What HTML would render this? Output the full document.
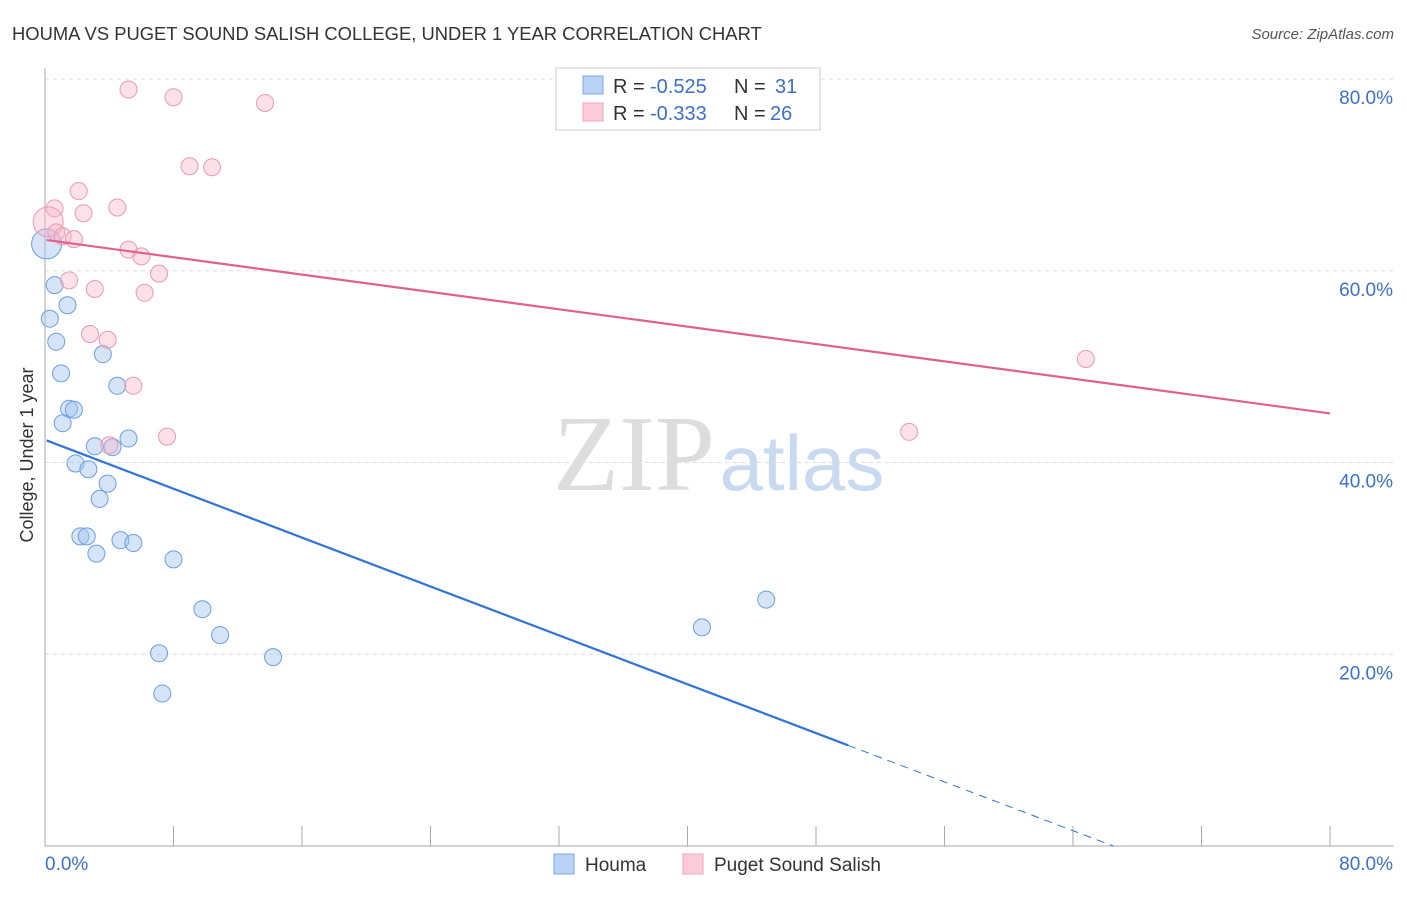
<!DOCTYPE html>
<html><head><meta charset="utf-8"><style>
body{margin:0;background:#fff;font-family:"Liberation Sans",sans-serif;}
</style></head><body>
<svg width="1406" height="892" xmlns="http://www.w3.org/2000/svg" style="font-family:'Liberation Sans',sans-serif">
<text x="12" y="40" font-size="18.4" fill="#333">HOUMA VS PUGET SOUND SALISH COLLEGE, UNDER 1 YEAR CORRELATION CHART</text>
<text x="1394" y="39" font-size="15" fill="#555" font-style="italic" text-anchor="end">Source: ZipAtlas.com</text>
<text x="33" y="455" font-size="18" fill="#333" transform="rotate(-90 33 455)" text-anchor="middle">College, Under 1 year</text>
<g>
<text x="634" y="490" font-size="108" fill="#ddd" font-family="Liberation Serif" text-anchor="middle">ZIP</text>
<text x="802" y="490" font-size="78" fill="#c9d9f0" text-anchor="middle">atlas</text>
</g>
<g id="grid"></g>
<g id="axes"></g>
<g id="marks"></g>
<g>
<rect x="556" y="68" width="264" height="62" fill="#fff" stroke="#ccc"/>
<rect x="583" y="76" width="20" height="18" fill="#b9d3f6" stroke="#7aa6e6"/>
<rect x="583" y="103" width="20" height="18" fill="#fbcbd9" stroke="#eba5bc"/>
<text x="613" y="93" font-size="20" fill="#333">R =</text>
<text x="650" y="93" font-size="20" fill="#3b6fd0">-0.525</text>
<text x="734" y="93" font-size="20" fill="#333">N =</text>
<text x="775" y="93" font-size="20" fill="#3b6fd0">31</text>
<text x="613" y="120" font-size="20" fill="#333">R =</text>
<text x="650" y="120" font-size="20" fill="#3b6fd0">-0.333</text>
<text x="734" y="120" font-size="20" fill="#333">N =</text>
<text x="770" y="120" font-size="20" fill="#3b6fd0">26</text>
</g>
<g>
<rect x="554" y="854" width="20" height="20" fill="#b9d3f6" stroke="#7aa6e6"/>
<text x="585" y="871" font-size="19" fill="#333">Houma</text>
<rect x="683" y="854" width="20" height="20" fill="#fbcbd9" stroke="#eba5bc"/>
<text x="714" y="871" font-size="19" fill="#333">Puget Sound Salish</text>
</g>
</svg>
<script>
const yTicks=[20,40,60,80];
const yTickLabels=["20.0%","40.0%","60.0%","80.0%"];
const xTickLabels=["0.0%","80.0%"];
const houmaX=[0.1,0.6,1.4,0.3,0.7,1.0,1.5,1.8,1.1,3.6,4.5,5.2,3.1,4.2,1.9,2.7,3.9,3.4,2.2,2.6,3.2,4.7,5.5,8.0,9.8,10.9,7.1,14.2,7.3,40.9,44.9];
const houmaY=[62.8,58.5,56.4,55.0,52.6,49.3,45.6,45.5,44.1,51.3,48.0,42.5,41.7,41.6,39.9,39.3,37.8,36.2,32.3,32.3,30.5,31.9,31.6,29.9,24.7,22.0,20.1,19.7,15.9,22.8,25.7];
const pugetX=[5.2,8.0,13.7,9.0,10.4,2.1,0.6,4.5,2.4,0.2,0.7,1.1,1.8,5.2,6.0,7.1,1.5,3.1,6.2,2.8,3.9,5.5,4.0,7.6,53.8,64.8];
const pugetY=[78.9,78.1,77.5,70.9,70.8,68.3,66.5,66.6,66.0,65.1,64.0,63.6,63.3,62.2,61.5,59.7,59.0,58.1,57.7,53.4,52.8,48.0,41.8,42.7,43.2,50.8];
const houmaTrend=[42.3,-0.636];
const pugetTrend=[63.2,-0.226];
const NS="http://www.w3.org/2000/svg";
const X0=45,X1=1330,Y0=846,Y80=79;
const sx=v=>X0+(X1-X0)*v/80;
const sy=v=>Y0-(Y0-Y80)*v/80;
function mk(tag,attrs,parent){const e=document.createElementNS(NS,tag);for(const k in attrs)e.setAttribute(k,attrs[k]);document.getElementById(parent).appendChild(e);return e;}
yTicks.forEach((t,i)=>{
 const l=mk('line',{x1:X0,x2:1394,y1:sy(t),y2:sy(t),stroke:'#ddd','stroke-dasharray':'4,4'},'grid');
 
 
 const tx=mk('text',{x:1393,y:sy(t)+25,'font-size':19,fill:'#3b6fd0','text-anchor':'end'},'grid');
 tx.textContent=yTickLabels[i];
 
 
});
let a=mk('line',{x1:X0,x2:X0,y1:68,y2:846,stroke:'#aaa'},'axes');


a=mk('line',{x1:X0,x2:1394,y1:846,y2:846,stroke:'#aaa'},'axes');


for(let i=0;i<=10;i++){const t=mk('line',{x1:sx(i*8),x2:sx(i*8),y1:826,y2:846,stroke:'#aaa'},'axes');
 
 }
let xl=mk('text',{x:45,y:870,'font-size':19,fill:'#3b6fd0'},'axes');xl.textContent=xTickLabels[0];


xl=mk('text',{x:1393,y:870,'font-size':19,fill:'#3b6fd0','text-anchor':'end'},'axes');xl.textContent=xTickLabels[1];


houmaX.forEach((x,i)=>{const c=mk('circle',{cx:sx(x),cy:sy(houmaY[i]),r:i===0?15:8.5,fill:'rgba(164,196,240,0.45)',stroke:'#6a9ee0','stroke-width':1},'marks');
 
 });
pugetX.forEach((x,i)=>{const c=mk('circle',{cx:sx(x),cy:sy(pugetY[i]),r:i===9?15:8.5,fill:'rgba(248,180,200,0.4)',stroke:'#e89ab0','stroke-width':1},'marks');
 
 });
const hEnd=50, hZero=-houmaTrend[0]/houmaTrend[1];
let tl=mk('line',{x1:sx(0.1),y1:sy(houmaTrend[0]),x2:sx(hEnd),y2:sy(houmaTrend[0]+houmaTrend[1]*hEnd),stroke:'#2f74d6','stroke-width':2.2},'marks');


tl=mk('line',{x1:sx(hEnd),y1:sy(houmaTrend[0]+houmaTrend[1]*hEnd),x2:sx(hZero),y2:sy(0),stroke:'#2f74d6','stroke-width':1,'stroke-dasharray':'8,6'},'marks');


tl=mk('line',{x1:sx(0.1),y1:sy(pugetTrend[0]),x2:sx(80),y2:sy(pugetTrend[0]+pugetTrend[1]*80),stroke:'#e0608e','stroke-width':2.2},'marks');


</script>
</body></html>
